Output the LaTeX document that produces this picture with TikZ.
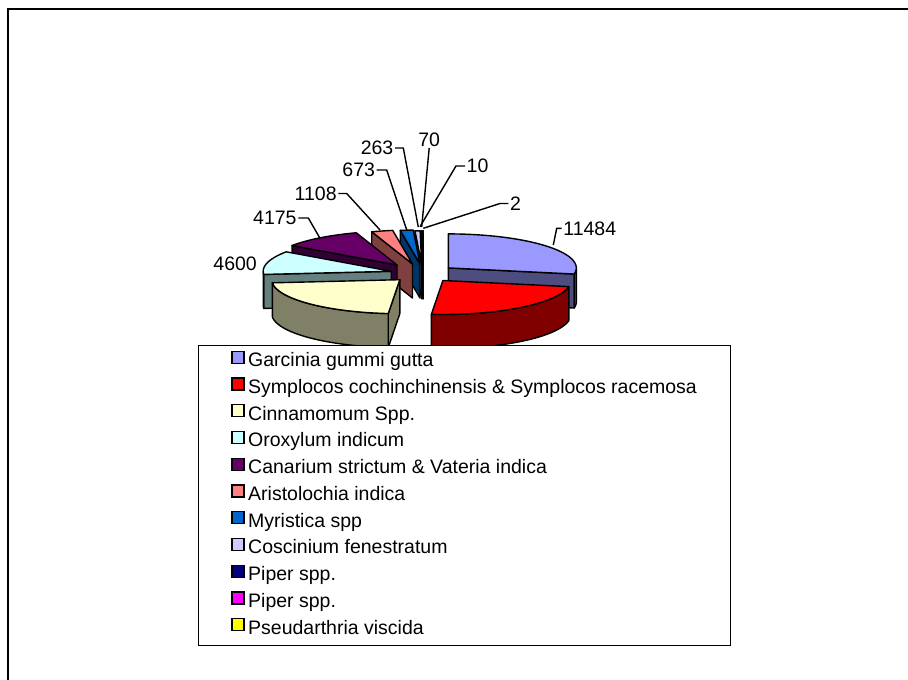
\documentclass[tikz,border=0pt]{standalone}
\usepackage{fontspec}
\setmainfont{Liberation Sans}
\definecolor{garT}{HTML}{9999FF}\definecolor{garS}{HTML}{4D4D80}
\definecolor{symT}{HTML}{FF0000}\definecolor{symS}{HTML}{800000}
\definecolor{cinT}{HTML}{FFFFCC}\definecolor{cinS}{HTML}{808066}
\definecolor{oroT}{HTML}{CCFFFF}\definecolor{oroS}{HTML}{668080}
\definecolor{canT}{HTML}{660066}\definecolor{canS}{HTML}{330033}
\definecolor{ariT}{HTML}{FF8080}\definecolor{ariS}{HTML}{804040}
\definecolor{myrT}{HTML}{0066CC}\definecolor{myrS}{HTML}{003366}
\definecolor{cosT}{HTML}{CCCCFF}\definecolor{cosS}{HTML}{666680}
\definecolor{pipT}{HTML}{000080}\definecolor{pipS}{HTML}{000040}
\definecolor{pimT}{HTML}{FF00FF}\definecolor{pimS}{HTML}{800080}
\definecolor{pseT}{HTML}{FFFF00}\definecolor{pseS}{HTML}{808000}
\def\pieRX{128}\def\pieRY{34}\def\pieH{34}
% top face (arc)
\newcommand\PieTop[5]{\filldraw[pie,fill=#5] (#1,#2) -- plot[domain=#3:#4,samples=40,variable=\t] ({#1+\pieRX*cos(\t)},{#2-\pieRY*sin(\t)}) -- cycle;}
% top face (tiny, straight)
\newcommand\PieTopS[5]{\filldraw[pie,fill=#5] (#1,#2) -- ({#1+\pieRX*cos(#3)},{#2-\pieRY*sin(#3)}) -- ({#1+\pieRX*cos(#4)},{#2-\pieRY*sin(#4)}) -- cycle;}
% radial face
\newcommand\PieRad[4]{\filldraw[pie,fill=#4] (#1,#2) -- ({#1+\pieRX*cos(#3)},{#2-\pieRY*sin(#3)}) -- ++(0,\pieH) -- ({#1},{#2+\pieH}) -- cycle;}
% outer rim
\newcommand\PieRim[5]{\filldraw[pie,fill=#5] plot[domain=#3:#4,samples=40,variable=\t] ({#1+\pieRX*cos(\t)},{#2-\pieRY*sin(\t)}) -- plot[domain=#4:#3,samples=40,variable=\t] ({#1+\pieRX*cos(\t)},{#2-\pieRY*sin(\t)+\pieH}) -- cycle;}
\begin{document}
\begin{tikzpicture}[x=1pt,y=-1pt,
  pie/.style={draw=black,line width=1.4pt,line join=round},
  lab/.style={font=\fontsize{19.5}{23}\selectfont,inner sep=1.5pt},
  lead/.style={draw=black,line width=1.4pt},
  sw/.style={draw=black,line width=1.3pt,minimum size=12pt,inner sep=0pt},
  lt/.style={font=\fontsize{19.5}{23}\selectfont,inner sep=0pt,anchor=base west}]
\useasboundingbox (0,0) rectangle (908,680);
% outer frame
\draw[line width=2.3pt] (7.7,680) -- (7.7,8.7) -- (908,8.7);
% back slices
\PieRad{423}{264.8}{90.017}{pseS}\PieTopS{423}{264.8}{90.017}{90}{pseT}
\PieRad{423}{264.8}{90.10}{pimS}\PieTopS{423}{264.8}{90.10}{90.017}{pimT}
\PieRad{422.8}{264.8}{90.71}{pipS}\PieTopS{422.8}{264.8}{90.71}{90.10}{pipT}
\PieRad{421.7}{264.8}{93.01}{cosS}\PieTopS{421.7}{264.8}{93.01}{90.71}{cosT}
\PieRad{420}{264}{98.90}{myrS}\PieTop{420}{264}{98.90}{93.01}{myrT}
\PieRad{412.5}{264}{108.58}{ariS}\PieTop{412.5}{264}{108.58}{98.90}{ariT}
\PieRad{397}{265}{145.07}{canS}\PieTop{397}{265}{145.07}{108.58}{canT}
\PieRad{391.2}{271.3}{185.29}{oroS}\PieRim{391.2}{271.3}{185.29}{180}{oroS}\PieTop{391.2}{271.3}{185.29}{145.07}{oroT}
% front slices
\PieRad{448.3}{267.9}{-10.38}{garS}\PieRim{448.3}{267.9}{0}{-10.38}{garS}\PieTop{448.3}{267.9}{90}{-10.38}{garT}
\PieRad{399.8}{279.7}{-95.17}{cinS}\PieRim{399.8}{279.7}{-95.17}{-174.71}{cinS}\PieTop{399.8}{279.7}{-95.17}{-174.71}{cinT}
\PieRim{442.9}{280.5}{-10.38}{-95.17}{symS}\PieTop{442.9}{280.5}{-10.38}{-95.17}{symT}
% data labels and leaders
\coordinate (E11484) at (553.3,245);
\coordinate (E2) at (423.3,228.3);
\coordinate (E10) at (420,226.7);
\coordinate (E70) at (421.7,227);
\coordinate (E263) at (418.3,227);
\coordinate (E673) at (406.7,230);
\coordinate (E1108) at (380,230);
\coordinate (E4175) at (320,238.3);
\node[lab,anchor=west] (L11484) at (561.7,228.3) {11484};
\node[lab,anchor=west] (L2) at (508.3,203.5) {2};
\node[lab,anchor=west] (L10) at (465,166) {10};
\node[lab,anchor=south] (L70) at (429.2,148) {70};
\node[lab,anchor=east] (L263) at (395,148) {263};
\node[lab,anchor=east] (L673) at (376.7,170) {673};
\node[lab,anchor=east] (L1108) at (338.3,193.5) {1108};
\node[lab,anchor=east] (L4175) at (298.3,218) {4175};
\node[lab,anchor=east] (L4600) at (258.5,263.3) {4600};
\draw[lead] (L11484.west) -- ++(-5,0) -- (E11484);
\draw[lead] (L2.west) -- ++(-8.3,0) -- (E2);
\draw[lead] (L10.west) -- ++(-9,0) -- (E10);
\draw[lead] (L70.south) -- (E70);
\draw[lead] (L263.east) -- ++(8.3,0) -- (E263);
\draw[lead] (L673.east) -- ++(10,0) -- (E673);
\draw[lead] (L1108.east) -- ++(8.4,0) -- (E1108);
\draw[lead] (L4175.east) -- ++(10,0) -- (E4175);
% legend
\node[draw=black,line width=1.3pt,fill=white,minimum width=532pt,minimum height=300pt,inner sep=0pt,anchor=north west] (legend) at (197.5,344.8) {};
\foreach \c/\txt [count=\i from 0] in {garT/Garcinia gummi gutta,symT/Symplocos cochinchinensis \& Symplocos racemosa,cinT/Cinnamomum Spp.,oroT/Oroxylum indicum,canT/Canarium strictum \& Vateria indica,ariT/Aristolochia indica,myrT/Myristica spp,cosT/Coscinium fenestratum,pipT/Piper spp.,pimT/Piper spp.,pseT/Pseudarthria viscida}{
  \pgfmathsetmacro\yb{366.7+26.75*\i}
  \node[sw,fill=\c] (s\i) at (238,\yb-9.5) {};
  \node[lt] (t\i) at (248,\yb) {\txt};
}
\end{tikzpicture}
\end{document}
